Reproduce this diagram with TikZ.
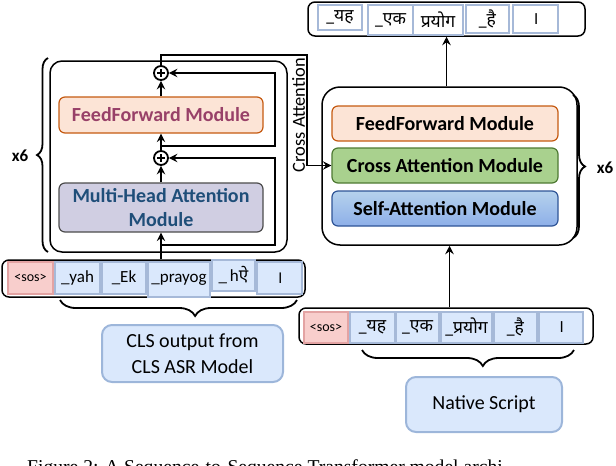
\documentclass[tikz,border=0pt]{standalone}
\usepackage{fontspec}
\setmainfont{Carlito}
\newfontfamily\deva[Script=Devanagari]{Noto Sans}
\newfontfamily\capfont{Liberation Serif}
\usetikzlibrary{arrows.meta,decorations.pathreplacing,calc}
\definecolor{cellfl}{HTML}{DAE8FC}
\definecolor{cellbd}{HTML}{A6B9D8}
\definecolor{sosfl}{HTML}{F8CECC}
\definecolor{sosbd}{HTML}{E3A3A3}
\definecolor{fffl}{HTML}{FCE4D6}
\definecolor{ffbd}{HTML}{C55A11}
\definecolor{fftx}{HTML}{984068}
\definecolor{mhafl}{HTML}{D0CEE2}
\definecolor{mhatx}{HTML}{1F4E79}
\definecolor{cafl}{HTML}{A9D18E}
\definecolor{cabd}{HTML}{4E7A33}
\definecolor{safl}{HTML}{9DC3E6}
\definecolor{sabd}{HTML}{2F5597}
\definecolor{lblbd}{HTML}{9DB6DA}
\newcommand\cellfnt{\fontsize{17}{19}\selectfont}
\newcommand\devfnt{\fontsize{17.5}{19}\selectfont\deva}
\newcommand\sosfnt{\fontsize{14}{15}\selectfont}
\newcommand\modfnt{\fontsize{20}{24}\selectfont\bfseries}
\newcommand\lblfnt{\fontsize{20}{26}\selectfont}
\tikzset{
  conn/.style={line width=1.8pt,-{Stealth[length=8.5pt,width=8.5pt,inset=3pt]}},
  wire/.style={line width=1.8pt},
  cell/.style={draw=cellbd,fill=cellfl,line width=1.2pt,inner sep=0pt,font=\cellfnt},
  outcell/.style={draw=cellbd,fill=white,line width=1.4pt,inner sep=0pt,font=\devfnt},
  sos/.style={draw=sosbd,fill=sosfl,line width=1.2pt,inner sep=0pt,font=\sosfnt},
  row/.style={draw=black,line width=1.5pt,rounded corners=7pt,inner sep=0pt},
  frame/.style={draw=black,line width=1.5pt,inner sep=0pt},
  module/.style={rounded corners=6pt,line width=1.2pt,inner sep=0pt,font=\modfnt,align=center,
    minimum width=204pt},
  rmodule/.style={module,minimum width=226pt,minimum height=35pt},
  lbl/.style={draw=lblbd,fill=cellfl,line width=2pt,rounded corners=10pt,inner sep=0pt,
    font=\lblfnt,align=center},
  plus/.style={circle,draw=black,line width=1.8pt,minimum size=14pt,inner sep=0pt},
  brc/.style={line width=1.8pt,decorate},
  times/.style={font=\fontsize{17}{20}\selectfont\bfseries,inner sep=0pt}
}
\begin{document}
\begin{tikzpicture}[x=1pt,y=-1pt]
\useasboundingbox (0,0) rectangle (616,466);
\clip (0,0) rectangle (616,466);

% ---------- encoder (left) ----------
\node[frame,rounded corners=12pt,minimum width=237pt,minimum height=191pt] (enc) at (168.5,156.5) {};
\node[module,draw=ffbd,fill=fffl,text=fftx,minimum height=36pt] (lff) at (161,115) {FeedForward Module};
\node[module,draw=black!70,fill=mhafl,text=mhatx,minimum height=49pt] (mha) at (161,207.5)
  {Multi-Head Attention\\Module};
\node[plus] (p1) at (161,158) {};
\node[plus] (p2) at (161,73) {};
\draw[line width=1.5pt] (p1.center) ++(-4,0) -- ++(8,0) (p1.center) ++(0,-4) -- ++(0,8);
\draw[line width=1.5pt] (p2.center) ++(-4,0) -- ++(8,0) (p2.center) ++(0,-4) -- ++(0,8);

\coordinate (lb1) at (48,252);
\coordinate (lb2) at (48,58);
\draw[brc,decoration={brace,amplitude=11pt}] (lb1) -- (lb2);
\node[times] (lx6) at (20,156) {x6};

% left input row
\node[row,minimum width=303pt,minimum height=37pt] (lrow) at (153.5,278.5) {};
\node[sos,minimum width=45pt,minimum height=32pt] (ls) at (30.5,278) {<sos>};
\node[cell,minimum width=45pt,minimum height=32pt] (l1) at (77.5,278) {\_yah};
\node[cell,minimum width=44pt,minimum height=32pt] (l2) at (124,278) {\_Ek};
\node[cell,minimum width=62pt,minimum height=35pt] (l3) at (179,279.5) {\_prayog};
\node[cell,minimum width=43pt,minimum height=31pt] (l4) at (233.5,275.5) {\_\,h{\deva ऐ}};
\node[cell,minimum width=45pt,minimum height=32pt] (l5) at (279.5,278) {{\deva ।}};

\coordinate (lbr1) at (60,300);
\coordinate (lbr2) at (297,300);
\draw[brc,decoration={brace,amplitude=16pt,aspect=0.57,mirror}] (lbr1) -- (lbr2);
\node[lbl,minimum width=181pt,minimum height=57pt] (cls) at (192.5,353.5) {CLS output from\\CLS ASR Model};

% left connectors
\draw[conn] (lrow.north -| mha) -- (mha.south);
\draw[conn] (mha.north) -- (p1.south);
\draw[conn] (p1.north) -- (lff.south);
\draw[conn] (lff.north) -- (p2.south);
\coordinate (r1a) at (161,245);
\coordinate (r1b) at (275,245);
\coordinate (r2a) at (161,146);
\coordinate (r2b) at (275,146);
\draw[conn] (r1a) -- (r1b) |- (p1);
\draw[conn] (r2a) -- (r2b) |- (p2);

% ---------- decoder (right) ----------
\node[frame,rounded corners=18pt,minimum width=255pt,minimum height=158pt] (dec) at (449.5,166) {};
\node[rmodule,draw=ffbd,fill=fffl] (rff) at (445,123.5) {FeedForward Module};
\node[rmodule,draw=cabd,fill=cafl] (cam) at (445,165.5) {Cross Attention Module};
\node[rmodule,draw=sabd,top color=safl!75!white,bottom color=safl!90!blue] (sam) at (445,208.5) {Self-Attention Module};
\coordinate (rb1) at (573,95);
\coordinate (rb2) at (573,238);
\draw[brc,decoration={brace,amplitude=12pt}] (rb1) -- (rb2);
\node[times] (rx6) at (605,168) {x6};

% cross attention connector
\coordinate (ct) at (307,55);
\draw[conn] (p2.north) |- (ct) |- (cam.west);
\node[font=\fontsize{18.4}{20}\selectfont,rotate=90,inner sep=0pt] (catext) at (298.5,115) {Cross Attention};

% output row
\node[row,minimum width=277pt,minimum height=34pt] (orow) at (446.5,19) {};
\node[outcell,minimum width=44pt,minimum height=25pt] (o1) at (340,17.5) {\_यह};
\node[outcell,minimum width=45pt,minimum height=30pt] (o2) at (390.5,20) {\_एक};
\node[outcell,minimum width=50pt,minimum height=30pt] (o3) at (438,20) {प्रयोग};
\node[outcell,minimum width=43pt,minimum height=28pt] (o4) at (487.5,19) {\_है};
\node[outcell,minimum width=45pt,minimum height=28pt] (o5) at (535.5,19) {।};

% right input row
\node[row,minimum width=294pt,minimum height=36pt] (rrow) at (446,326) {};
\node[sos,minimum width=44pt,minimum height=31pt] (rs) at (326,327.5) {<sos>};
\node[cell,font=\devfnt,minimum width=45pt,minimum height=31pt] (n1) at (372.5,327.5) {\_यह};
\node[cell,font=\devfnt,minimum width=43pt,minimum height=31pt] (n2) at (417.5,327.5) {\_एक};
\node[cell,font=\devfnt,minimum width=51pt,minimum height=31pt] (n3) at (466.5,327.5) {\_प्रयोग};
\node[cell,font=\devfnt,minimum width=43pt,minimum height=31pt] (n4) at (515.5,327.5) {\_है};
\node[cell,font=\devfnt,minimum width=44pt,minimum height=31pt] (n5) at (561,327.5) {।};
\coordinate (rbr1) at (362,350);
\coordinate (rbr2) at (574,350);
\draw[brc,decoration={brace,amplitude=16pt,aspect=0.57,mirror}] (rbr1) -- (rbr2);
\node[lbl,minimum width=156pt,minimum height=55pt] (nat) at (484,404.5) {Native Script};

% right connectors
\draw[conn] (rrow.north -| dec) -- (dec.south);
\draw[conn] (dec.north -| orow) -- (orow.south);

% caption (cut off by the picture's lower edge)
\node[font=\capfont\fontsize{19.6}{24}\selectfont,anchor=base west,inner sep=0pt] (cap) at (27,473)
  {Figure 2: A Sequence-to-Sequence Transformer model archi-};
\end{tikzpicture}
\end{document}
